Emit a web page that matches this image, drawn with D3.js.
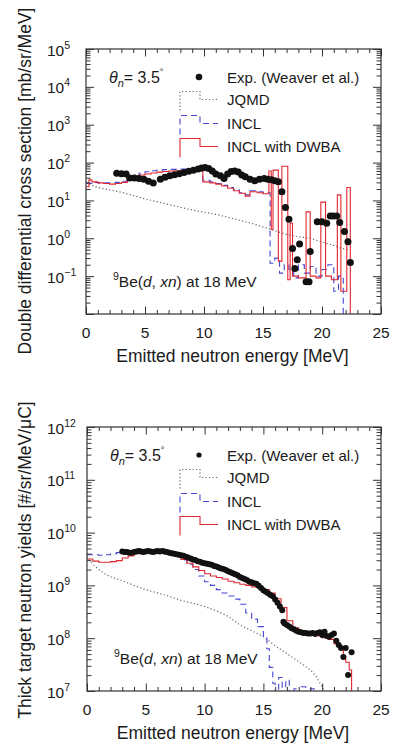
<!DOCTYPE html>
<html>
<head>
<meta charset="utf-8">
<script src="https://cdn.jsdelivr.net/npm/d3@7"></script>
<style>
body { margin: 0; background: #fff; }
text { font-family: "Liberation Sans", Arial, Helvetica, sans-serif; fill: #1a1a1a; }
</style>
</head>
<body>
<div id="chart"></div>
<script>
var svgWidth = 396, svgHeight = 746;

var xTickValues = [0, 5, 10, 15, 20, 25];
var legendLabels = ["Exp. (Weaver et al.)", "JQMD", "INCL", "INCL with DWBA"];

// ---- top: double differential cross section [mb/sr/MeV]
var ddxLabelExp = [-1, 0, 1, 2, 3, 4, 5];
var ddxExpE = [2.6, 3.0, 3.4, 3.7, 4.1, 4.5, 4.9, 5.3, 5.7, 6.3, 6.7, 7.1, 7.5, 7.9, 8.3, 8.7, 9.1, 9.5, 9.8,
    10.1, 10.4, 10.7, 11.0, 11.4, 11.7, 12.0, 12.3, 12.6, 12.9, 13.2, 13.5, 13.9, 14.3, 14.7, 15.1, 15.4,
    15.7, 16.0, 16.3, 16.6, 16.9, 17.2, 17.5, 17.7, 17.9, 18.1, 18.65, 18.9, 19.0, 19.6, 20.0, 20.4,
    20.7, 20.95, 21.25, 21.5, 21.9, 22.2, 22.4];
var ddxExpV = [52, 51, 50, 39, 39, 38, 36, 32, 29, 36, 41, 45, 48, 51, 55, 59, 63, 68, 72,
    74, 70, 60, 50, 45, 38, 50, 58, 60, 56, 47, 42, 36, 33, 36, 38, 36,
    35, 33, 31, 17, 6.5, 3.2, 0.54, 0.16, 0.27, 0.71, 0.071, 0.071, 0.45, 2.75, 2.75, 2.5,
    3.9, 3.9, 3.9, 2.6, 1.5, 0.81, 0.23];

var ddxDwbaEdges = [0, 0.25, 0.5, 1.0, 1.5, 2.0, 2.5, 3.0, 3.5, 4.0, 4.5, 5.0, 5.5, 6.0, 6.5, 7.0, 7.5, 8.0,
    8.5, 9.0, 9.5, 9.9, 10.5, 11.0, 11.5, 12.0, 12.5, 13.0, 13.5, 13.9, 14.5, 15.0, 15.5, 15.7, 15.85,
    16.3, 16.6, 17.1, 17.3, 17.5, 18.0, 18.65, 19.0, 19.5, 19.9, 20.3, 20.8, 21.3, 21.6, 22.1, 22.4, 23.0];
var ddxDwbaV = [23, 35, 31, 29, 28, 27, 28, 30, 37, 43, 47, 50, 53, 56, 58, 60, 61, 61,
    62, 62, 61, 31, 29, 27, 24, 21, 18, 15.5, 13, 17, 16, 15, 60, 1.7,
    63, 0.25, 80, 0.08, 2.5, 0.1, 0.09, 5, 0.1, 0.09, 9, 0.1, 0.08, 14, 0.04, 22, 0.0001];

var ddxInclEdges = [0, 0.5, 1.0, 1.5, 2.0, 2.5, 3.0, 3.5, 4.0, 4.5, 5.0, 5.5, 6.0, 6.5, 7.0, 7.5, 8.0, 8.5,
    9.0, 9.5, 9.9, 10.5, 11.0, 11.5, 12.0, 12.5, 13.0, 13.5, 13.9, 14.5, 15.0, 15.6, 16.0, 16.4, 16.8,
    17.2, 17.6, 18.0, 18.5, 19.0, 19.5, 20.0, 20.5, 21.0, 21.4, 21.8, 23.0];
var ddxInclV = [28, 30, 29, 29, 29, 30, 32, 37, 45, 52, 57, 61, 63, 65, 66, 66, 67, 68,
    69, 68, 34, 31, 28, 25, 22, 19, 16, 14, 18, 17, 16, 0.22, 0.3, 0.12, 0.2,
    0.15, 0.09, 0.2, 0.12, 0.18, 0.1, 0.15, 0.2, 0.04, 0.1, 0.0001];

var ddxJqmdE = [0, 0.5, 1, 2, 3, 4, 5, 6, 7, 8, 9, 10, 11, 12, 13, 14, 15, 16, 17, 18, 19, 20, 21, 21.6, 22.2];
var ddxJqmdV = [30, 25, 22, 19, 16.5, 13.5, 11, 9.3, 7.8, 6.6, 5.6, 4.9, 4.3, 3.6, 3.0, 2.5, 2.0, 1.6,
    1.25, 1.1, 1.0, 0.8, 0.65, 0.55, 0.5];

// ---- bottom: thick target neutron yields [#/sr/MeV/uC]
var ttyLabelExp = [7, 8, 9, 10, 11, 12];
var ttyExpE = [3.0, 3.2, 3.4, 3.6, 3.8, 4.0, 4.2, 4.4, 4.6, 4.8, 5.0, 5.2, 5.4, 5.6, 5.8, 6.0, 6.2, 6.4, 6.6, 6.8,
    7.0, 7.2, 7.4, 7.6, 7.8, 8.0, 8.2, 8.4, 8.6, 8.8, 9.0, 9.2, 9.4, 9.6, 9.8,
    10.0, 10.2, 10.4, 10.6, 10.8, 11.0, 11.2, 11.4, 11.6, 11.8, 12.0, 12.2, 12.4, 12.6, 12.8,
    13.0, 13.2, 13.4, 13.6, 13.8, 14.0, 14.2, 14.4, 14.6, 14.8, 15.0, 15.2, 15.4, 15.6, 15.8,
    16.0, 16.2, 16.4, 16.6,
    16.7, 16.8,
    17.0, 17.2, 17.4, 17.6, 17.8, 18.0, 18.2, 18.4, 18.6, 18.8, 19.0, 19.2, 19.4, 19.6, 19.8,
    20.0, 20.2, 20.4, 20.6, 20.8, 21.0, 21.2, 21.4, 21.6, 21.8, 22.0,
    22.2, 22.5];
var ttyExpV = [4.37e9, 4.27e9, 4.27e9, 4.17e9, 4.17e9, 4.27e9, 4.37e9, 4.47e9, 4.37e9, 4.27e9, 4.37e9, 4.47e9, 4.37e9, 4.27e9, 4.37e9, 4.47e9, 4.37e9, 4.47e9, 4.37e9, 4.27e9,
    4.17e9, 4.07e9, 3.98e9, 3.89e9, 3.80e9, 3.72e9, 3.63e9, 3.47e9, 3.39e9, 3.24e9, 3.09e9, 3.02e9, 2.88e9, 2.82e9, 2.69e9,
    2.63e9, 2.57e9, 2.51e9, 2.45e9, 2.34e9, 2.29e9, 2.19e9, 2.09e9, 2.04e9, 1.95e9, 1.86e9, 1.78e9, 1.70e9, 1.62e9, 1.55e9,
    1.45e9, 1.38e9, 1.32e9, 1.26e9, 1.17e9, 1.15e9, 1.10e9, 1.07e9, 9.8e8, 8.9e8, 8.1e8, 7.6e8, 7.1e8, 6.6e8, 6.2e8,
    5.4e8, 4.7e8, 4.0e8, 3.4e8,
    2.04e8, 1.9e8,
    1.78e8, 1.66e8, 1.55e8, 1.48e8, 1.38e8, 1.32e8, 1.29e8, 1.26e8, 1.26e8, 1.23e8, 1.23e8, 1.26e8, 1.20e8, 1.26e8, 1.29e8,
    1.15e8, 1.32e8, 1.10e8, 1.07e8, 1.15e8, 1.23e8, 8.9e7, 7.4e7, 6.5e7, 4.4e7, 6.5e7,
    2.0e7, 5.4e7];

var ttyDwbaEdges = [0, 0.5, 1.0, 1.5, 2.0, 2.5, 3.0, 3.5, 4.0, 4.5, 5.0, 5.5, 6.0, 6.5, 7.0, 7.5, 8.0, 8.5, 9.0, 9.5,
    10.0, 10.5, 11.0, 11.5, 12.0, 12.5, 13.0, 13.5, 14.0, 14.5, 15.0, 15.5, 16.0, 16.5, 17.0, 17.5, 18.0,
    18.5, 19.0, 19.5, 20.0, 20.5, 21.0, 21.5, 21.8, 22.0, 22.3, 22.5, 23.0];
var ttyDwbaV = [3.16e9, 2.88e9, 2.75e9, 2.75e9, 2.82e9, 2.95e9, 3.31e9, 3.63e9, 3.98e9, 4.07e9, 4.07e9, 4.07e9, 4.07e9, 3.98e9, 3.80e9, 3.55e9, 3.09e9, 2.63e9, 2.24e9, 1.91e9,
    1.66e9, 1.51e9, 1.41e9, 1.32e9, 1.20e9, 1.12e9, 1.05e9, 1.0e9, 9.3e8, 8.9e8, 8.3e8, 7.2e8, 5.6e8, 3.8e8, 2.14e8, 1.58e8,
    1.38e8, 1.26e8, 1.17e8, 1.12e8, 1.02e8, 9.5e7, 7.9e7, 6.8e7, 4.5e7, 3.5e7, 2.5e7, 1e5];

var ttyInclEdges = [0, 0.5, 1.0, 1.5, 2.0, 2.5, 3.0, 3.5, 4.0, 4.5, 5.0, 5.5, 6.0, 6.5, 7.0, 7.5, 8.0, 8.5, 9.0, 9.5,
    10.0, 10.5, 11.0, 11.5, 12.0, 12.5, 13.0, 13.5, 14.0, 14.5, 15.0, 15.3, 15.5, 15.8, 16.0, 16.3, 16.6,
    16.9, 17.2, 17.6, 17.9, 18.2, 18.6, 19.0, 19.3, 20.0];
var ttyInclV = [3.80e9, 3.80e9, 3.72e9, 3.80e9, 3.98e9, 4.17e9, 4.27e9, 4.37e9, 4.37e9, 4.37e9, 4.27e9, 4.27e9, 4.17e9, 4.07e9, 3.98e9, 3.55e9, 3.02e9, 2.51e9, 2.0e9, 1.51e9,
    1.17e9, 1.0e9, 8.3e8, 7.2e8, 6.3e8, 5.5e8, 4.4e8, 3.0e8, 2.3e8, 1.66e8, 1.05e8, 6.3e7, 2.8e7, 1.4e7, 6e6, 1.8e7,
    6e6, 1.6e7, 3e6, 1.1e7, 6e6, 1.2e7, 3e6, 1.1e7, 3e6];

var ttyJqmdE = [0, 0.3, 0.6, 1.0, 1.5, 2.0, 3.0, 4.0, 5.0, 6.0, 7.0, 8.0, 9.0, 10.0, 11.0, 12.0, 13.0, 14.0, 15.0,
    16.0, 17.0, 18.0, 19.0, 19.5, 20.0, 20.3];
var ttyJqmdV = [3.5e9, 2.8e9, 2.4e9, 2.0e9, 1.66e9, 1.45e9, 1.23e9, 1.0e9, 8.3e8, 7.2e8, 6.2e8, 5.2e8, 4.6e8, 4.0e8, 3.3e8, 2.6e8, 1.78e8, 1.38e8, 1.07e8,
    7.2e7, 5.1e7, 3.6e7, 2.5e7, 1.86e7, 1.2e7, 8e6];

var colRed = "#e0262f", colBlue = "#4646d4", colGray = "#666";

var svg = d3.select("#chart").append("svg")
    .attr("width", svgWidth)
    .attr("height", svgHeight);

function histPoints(edges, vals) {
    var pts = vals.map((v, i) => ({e: edges[i], v: v}));
    pts.push({e: edges[edges.length - 1], v: vals[vals.length - 1]});
    return pts;
}

function drawPanel(p) {
    var x = d3.scaleLinear().domain([0, 25]).range([p.left, p.right]);
    var y = d3.scaleLog().domain(p.yDomain).range([p.bottom, p.top]);

    var g = svg.append("g");

    svg.append("clipPath").attr("id", "clip" + p.id)
        .append("rect")
        .attr("x", p.left).attr("y", p.top)
        .attr("width", p.right - p.left).attr("height", p.bottom - p.top);

    var plot = g.append("g").attr("clip-path", `url(#clip${p.id})`);

    // theory curves
    var stepLine = d3.line().x(d => x(d.e)).y(d => y(d.v)).curve(d3.curveStepAfter);
    var plainLine = d3.line().x(d => x(d.e)).y(d => y(d.v));

    plot.append("path")
        .datum(p.jqmdE.map((e, i) => ({e: e, v: p.jqmdV[i]})))
        .attr("fill", "none")
        .attr("stroke", colGray)
        .attr("stroke-width", 1.2)
        .attr("stroke-dasharray", "1.2,2.3")
        .attr("d", plainLine);

    plot.append("path")
        .datum(histPoints(p.inclEdges, p.inclV))
        .attr("fill", "none")
        .attr("stroke", colBlue)
        .attr("stroke-width", 1.1)
        .attr("stroke-dasharray", "6,4")
        .attr("d", stepLine);

    plot.append("path")
        .datum(histPoints(p.dwbaEdges, p.dwbaV))
        .attr("fill", "none")
        .attr("stroke", colRed)
        .attr("stroke-width", 1.1)
        .attr("d", stepLine);

    plot.append("g")
        .selectAll("circle")
        .data(p.expE.map((e, i) => ({e: e, v: p.expV[i]})))
        .enter().append("circle")
        .attr("cx", d => x(d.e))
        .attr("cy", d => y(d.v))
        .attr("r", p.dotR)
        .attr("fill", "#111");

    // ticks on all four sides
    var decades = y.ticks().filter(v => Math.abs(Math.log10(v) - Math.round(Math.log10(v))) < 1e-6);
    var minors = y.ticks().filter(v => decades.indexOf(v) < 0);
    var xMinor = d3.range(0, 26).filter(v => v % 5 !== 0);

    var axes = [
        [d3.axisLeft(y).tickValues(decades).tickSize(-8), `translate(${p.left},0)`],
        [d3.axisLeft(y).tickValues(minors).tickSize(-4.5), `translate(${p.left},0)`],
        [d3.axisRight(y).tickValues(decades).tickSize(-8), `translate(${p.right},0)`],
        [d3.axisRight(y).tickValues(minors).tickSize(-4.5), `translate(${p.right},0)`],
        [d3.axisBottom(x).tickValues(xTickValues).tickSize(-7.5), `translate(0,${p.bottom})`],
        [d3.axisBottom(x).tickValues(xMinor).tickSize(-4), `translate(0,${p.bottom})`],
        [d3.axisTop(x).tickValues(xTickValues).tickSize(-7.5), `translate(0,${p.top})`],
        [d3.axisTop(x).tickValues(xMinor).tickSize(-4), `translate(0,${p.top})`]
    ];
    axes.forEach(a => {
        g.append("g")
            .attr("transform", a[1])
            .call(a[0].tickFormat(""))
            .call(s => s.select(".domain").remove())
            .call(s => s.selectAll("line").attr("stroke", "#333").attr("stroke-width", 1));
    });

    g.append("rect")
        .attr("x", p.left).attr("y", p.top)
        .attr("width", p.right - p.left).attr("height", p.bottom - p.top)
        .attr("fill", "none")
        .attr("stroke", "#333")
        .attr("stroke-width", 1.2);

    // x tick labels
    g.append("g")
        .selectAll("text")
        .data(xTickValues)
        .enter().append("text")
        .attr("x", d => x(d))
        .attr("y", p.bottom + 24)
        .attr("text-anchor", "middle")
        .attr("font-size", 15.5)
        .text(d => d);

    // y tick labels 10^n
    var yl = g.append("g")
        .selectAll("text")
        .data(p.labelExp)
        .enter().append("text")
        .attr("x", 47)
        .attr("y", d => y(Math.pow(10, d)) + 6.5)
        .attr("font-size", 15.5);
    yl.append("tspan").text("10");
    yl.append("tspan").attr("dy", -7).attr("font-size", 10.5)
        .text(d => d < 0 ? "\u2212" + (-d) : d);

    // axis titles
    g.append("text")
        .attr("x", (p.left + p.right) / 2 - 1)
        .attr("y", p.bottom + 48)
        .attr("text-anchor", "middle")
        .attr("font-size", 17.5)
        .text("Emitted neutron energy [MeV]");

    g.append("text")
        .attr("transform", `translate(31,${p.titleY}) rotate(-90)`)
        .attr("text-anchor", "middle")
        .attr("font-size", 17.5)
        .text(p.yTitle);

    // theta label
    var th = g.append("text")
        .attr("x", p.left + 23)
        .attr("y", p.top + 34)
        .attr("font-size", 16);
    th.append("tspan").attr("font-style", "italic").text("\u03b8");
    th.append("tspan").attr("font-style", "italic").attr("font-size", 11).attr("dy", 4).text("n");
    th.append("tspan").attr("dy", -4).text("= 3.5");
    th.append("tspan").attr("font-size", 9).attr("dy", -8).text("\u00b0");

    // reaction label
    var rl = g.append("text")
        .attr("x", p.left + 27)
        .attr("y", p.bottom - 27)
        .attr("font-size", 15.5);
    rl.append("tspan").attr("font-size", 10.5).attr("dy", -7).text("9");
    rl.append("tspan").attr("dy", 7).text("Be(");
    rl.append("tspan").attr("font-style", "italic").text("d");
    rl.append("tspan").text(", ");
    rl.append("tspan").attr("font-style", "italic").text("xn");
    rl.append("tspan").text(") at 18 MeV");

    // legend
    var rowY = [28, 50.5, 74.5, 97.5].map(d => p.top + d);
    var leg = g.append("g");
    leg.selectAll("text")
        .data(legendLabels)
        .enter().append("text")
        .attr("x", 227)
        .attr("y", (d, i) => rowY[i] + 5.5)
        .attr("font-size", 15)
        .text(d => d);

    leg.append("circle")
        .attr("cx", 199).attr("cy", rowY[0])
        .attr("r", p.legendR).attr("fill", "#111");

    var styles = [
        {stroke: colGray, dash: "1.2,2.3", w: 1.2},
        {stroke: colBlue, dash: "6,4", w: 1.1},
        {stroke: colRed, dash: null, w: 1.1}
    ];
    styles.forEach((s, i) => {
        var cy = rowY[i + 1];
        leg.append("path")
            .attr("d", `M180,${cy + 11}V${cy - 8}H200V${cy}H218`)
            .attr("fill", "none")
            .attr("stroke", s.stroke)
            .attr("stroke-width", s.w)
            .attr("stroke-dasharray", s.dash);
    });
}

drawPanel({
    id: "ddx", left: 86, right: 381, top: 49, bottom: 314,
    yDomain: [1e-2, 1e5], labelExp: ddxLabelExp,
    yTitle: "Double differential cross section [mb/sr/MeV]", titleY: 181,
    expE: ddxExpE, expV: ddxExpV, dotR: 3.5, legendR: 3.3,
    dwbaEdges: ddxDwbaEdges, dwbaV: ddxDwbaV,
    inclEdges: ddxInclEdges, inclV: ddxInclV,
    jqmdE: ddxJqmdE, jqmdV: ddxJqmdV
});

drawPanel({
    id: "tty", left: 87, right: 381, top: 427, bottom: 691,
    yDomain: [1e7, 1e12], labelExp: ttyLabelExp,
    yTitle: "Thick target neutron yields [#/sr/MeV/\u03bcC]", titleY: 560,
    expE: ttyExpE, expV: ttyExpV, dotR: 3, legendR: 2.6,
    dwbaEdges: ttyDwbaEdges, dwbaV: ttyDwbaV,
    inclEdges: ttyInclEdges, inclV: ttyInclV,
    jqmdE: ttyJqmdE, jqmdV: ttyJqmdV
});
</script>
</body>
</html>
